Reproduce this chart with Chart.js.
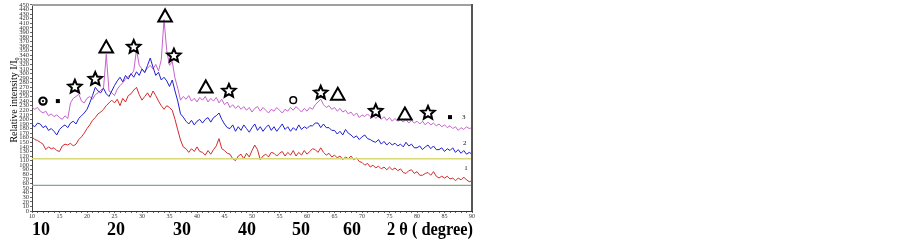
<!DOCTYPE html>
<html><head><meta charset="utf-8">
<script src="https://cdn.jsdelivr.net/npm/chart.js@4.4.1/dist/chart.umd.min.js"></script>
<style>html,body{margin:0;padding:0;background:#fff;}#wrap{width:903px;height:241px;position:relative;}</style>
</head><body><div id="wrap"><canvas id="c" width="903" height="241"></canvas></div>
<script>
// 2θ sampling of the patterns (degrees)
const angleStart = 10;
const angleStep = 0.5;

// Sample 1 (red), rows of 5 degrees
const series1 = [
  162,156,154,150,146,134,140,136,138,132,
  130,142,146,144,148,142,146,156,162,170,
  180,188,198,204,212,216,222,230,236,242,
  236,244,230,246,238,252,256,264,270,254,
  242,250,258,248,262,252,240,230,222,230,
  226,220,200,177,155,140,136,128,136,130,
  140,130,128,122,132,124,134,142,158,136,
  132,126,124,114,110,120,124,114,126,118,
  132,144,134,112,120,124,118,128,126,120,
  126,130,120,128,122,132,120,128,122,132,
  124,130,136,134,128,138,128,122,126,118,
  122,116,120,112,118,114,120,112,116,108,
  106,100,104,96,100,94,98,92,96,90,
  96,90,94,88,92,84,82,88,90,82,
  86,78,78,82,84,78,86,76,72,76,
  72,76,70,72,66,72,68,74,68,64,
  66
];
// Sample 2 (blue)
const series2 = [
  188,184,192,190,182,186,176,180,174,166,
  178,184,188,182,192,196,190,202,208,214,
  222,236,252,270,262,258,268,256,250,262,
  274,284,292,282,296,288,300,292,304,296,
  310,302,318,334,314,296,303,286,292,284,
  272,286,262,240,212,205,196,190,198,188,
  196,200,192,200,204,194,204,208,214,200,
  190,182,180,188,174,184,176,188,180,172,
  182,190,176,184,174,182,188,176,184,174,
  182,190,178,184,174,182,176,188,178,184,
  180,186,186,192,192,182,190,182,182,176,
  176,168,174,166,178,170,166,160,164,156,
  162,166,158,156,152,150,156,146,152,144,
  150,144,148,142,146,140,150,142,146,138,
  138,142,134,140,144,136,142,134,134,138,
  130,136,132,138,128,134,126,132,124,128,
  124
];
// Sample 3 (magenta)
const series3 = [
  227,222,226,218,214,218,208,212,206,210,
  204,200,208,202,236,246,250,255,240,236,
  246,250,244,254,258,264,268,342,262,258,
  252,266,274,280,288,294,298,306,352,318,
  310,304,312,318,310,320,306,330,418,350,
  318,326,290,268,242,250,244,252,240,246,
  238,248,242,250,238,246,240,248,236,244,
  232,238,226,232,224,230,222,228,220,226,
  216,224,228,218,226,220,214,222,218,226,
  220,214,222,218,226,220,228,222,216,224,
  218,226,222,232,238,244,232,226,230,222,
  226,218,224,216,220,212,216,208,214,204,
  210,206,212,206,210,202,208,200,206,198,
  204,196,202,196,200,194,200,192,198,192,
  196,190,196,188,194,188,192,186,190,184,
  188,182,186,180,184,176,182,178,184,180,
  182
];

// horizontal reference lines
const refYellow = 114;
const refGreen = 56;

// phase markers over the peaks
const markerType  = ['ring','square','star','star','tri','star','tri','star','tri','star','circle','star','tri','star','tri','star','square'];
const markerAngle = [12.0, 14.7, 17.8, 21.5, 23.5, 28.5, 34.2, 35.8, 41.6, 45.8, 57.5, 62.5, 65.6, 72.5, 77.8, 82.0, 86.0];
const markerValue = [240, 240, 271, 288, 358, 358, 426, 339, 271, 262, 242, 258, 255, 218, 212, 214, 205];

// curve numbers
const curveLabels = ['1','2','3'];
const curveLabelAngle = [88.9, 88.7, 88.5];
const curveLabelValue = [94, 149, 205];

// big axis labels under the chart
const bigLabels = ['10','20','30','40','50','60','2 θ ( degree)'];

const xAt = i => angleStart + i * angleStep;
const toPts = arr => arr.map((v, i) => ({x: xAt(i), y: v}));

function starPath(ctx, cx, cy, R, r) {
  ctx.beginPath();
  for (let k = 0; k < 10; k++) {
    const rad = k % 2 === 0 ? R : r;
    const a = -Math.PI / 2 + k * Math.PI / 5;
    const px = cx + rad * Math.cos(a), py = cy + rad * Math.sin(a);
    if (k === 0) ctx.moveTo(px, py); else ctx.lineTo(px, py);
  }
  ctx.closePath();
}

const overlay = {
  id: 'overlay',
  afterDatasetsDraw(chart) {
    const {ctx, chartArea: a, scales: {x, y}} = chart;
    ctx.save();
    // frame top/right
    ctx.strokeStyle = '#a0a0a0'; ctx.lineWidth = 2;
    ctx.beginPath(); ctx.moveTo(a.left, a.top); ctx.lineTo(a.right, a.top); ctx.stroke();
    ctx.strokeStyle = '#555'; ctx.lineWidth = 2;
    ctx.beginPath(); ctx.moveTo(a.right, a.top - 1); ctx.lineTo(a.right, a.bottom); ctx.stroke();

    // markers
    ctx.strokeStyle = '#000'; ctx.fillStyle = '#000';
    for (let i = 0; i < markerType.length; i++) {
      const cx = x.getPixelForValue(markerAngle[i]);
      const cy = y.getPixelForValue(markerValue[i]);
      const t = markerType[i];
      ctx.lineJoin = 'miter';
      if (t === 'star') {
        ctx.lineWidth = 2;
        starPath(ctx, cx, cy, 7, 3.2);
        ctx.stroke();
      } else if (t === 'tri') {
        ctx.lineWidth = 2;
        ctx.beginPath();
        ctx.moveTo(cx, cy - 6.5);
        ctx.lineTo(cx + 6.8, cy + 5.5);
        ctx.lineTo(cx - 6.8, cy + 5.5);
        ctx.closePath();
        ctx.stroke();
      } else if (t === 'ring') {
        ctx.lineWidth = 2.2;
        ctx.beginPath(); ctx.arc(cx, cy, 3.6, 0, Math.PI * 2); ctx.stroke();
        ctx.beginPath(); ctx.arc(cx, cy, 1.1, 0, Math.PI * 2); ctx.fill();
      } else if (t === 'circle') {
        ctx.lineWidth = 1.5;
        ctx.beginPath(); ctx.arc(cx, cy, 3.3, 0, Math.PI * 2); ctx.stroke();
      } else if (t === 'square') {
        ctx.fillRect(cx - 2, cy - 2, 4, 4);
      }
    }
    // curve numbers
    ctx.font = '7px "Liberation Serif"';
    ctx.textAlign = 'center'; ctx.textBaseline = 'middle'; ctx.fillStyle = '#111';
    for (let i = 0; i < curveLabels.length; i++) {
      ctx.fillText(curveLabels[i], x.getPixelForValue(curveLabelAngle[i]), y.getPixelForValue(curveLabelValue[i]));
    }
    ctx.restore();
  },
  afterDraw(chart) {
    const ctx = chart.ctx;
    ctx.save();
    // bottom big labels
    ctx.font = 'bold 18px "Liberation Serif"';
    ctx.fillStyle = '#000';
    ctx.textBaseline = 'alphabetic';
    const centers = [41, 116, 182, 247, 301, 352];
    ctx.textAlign = 'center';
    for (let i = 0; i < 6; i++) ctx.fillText(bigLabels[i], centers[i], 235);
    ctx.textAlign = 'left';
    ctx.fillText(bigLabels[6], 387, 235, 86);

    // y-axis title
    ctx.translate(14, 99);
    ctx.rotate(-Math.PI / 2);
    ctx.font = '10px "Liberation Serif"';
    ctx.textBaseline = 'middle';
    const main = 'Relative intensity I/I';
    const w = ctx.measureText(main).width;
    const total = w + 5;
    ctx.textAlign = 'left';
    ctx.fillText(main, -total / 2, 0);
    ctx.font = '6px "Liberation Serif"';
    ctx.fillText('0', -total / 2 + w, 3);
    ctx.restore();
  }
};

const lineDs = (label, arr, color) => ({
  label, data: toPts(arr), borderColor: color, borderWidth: 1,
  pointRadius: 0, tension: 0, fill: false
});

new Chart(document.getElementById('c'), {
  type: 'line',
  data: {
    datasets: [
      {label: 'ref1', data: [{x: 10, y: refYellow}, {x: 90, y: refYellow}], borderColor: '#d8d878', borderWidth: 1.5, pointRadius: 0},
      {label: 'ref2', data: [{x: 10, y: refGreen}, {x: 90, y: refGreen}], borderColor: '#8aa88a', borderWidth: 1.3, pointRadius: 0},
      lineDs('1', series1, '#d42a2a'),
      lineDs('2', series2, '#1f1fd0'),
      lineDs('3', series3, '#c463cc')
    ]
  },
  options: {
    responsive: false,
    animation: false,
    layout: {padding: {left: 0, right: 431, top: 4, bottom: 0}},
    plugins: {legend: {display: false}, tooltip: {enabled: false}},
    scales: {
      x: {
        type: 'linear', min: 10, max: 90,
        afterFit: s => { s.height = 30; },
        ticks: {
          stepSize: 1, autoSkip: false, maxRotation: 0, padding: 0,
          font: {family: 'Liberation Serif', size: 6}, color: '#333',
          callback: v => (v % 5 === 0 ? String(v) : '')
        },
        grid: {drawOnChartArea: false, tickLength: 2, color: '#666'},
        border: {color: '#333', width: 1}
      },
      y: {
        min: 0, max: 450,
        afterFit: s => { s.width = 32; },
        ticks: {
          stepSize: 10, autoSkip: false, padding: 1,
          font: {family: 'Liberation Serif', size: 6.5}, color: '#333'
        },
        grid: {drawOnChartArea: false, tickLength: 2, color: '#666'},
        border: {color: '#444', width: 1}
      }
    }
  },
  plugins: [overlay]
});
</script>
</body></html>
